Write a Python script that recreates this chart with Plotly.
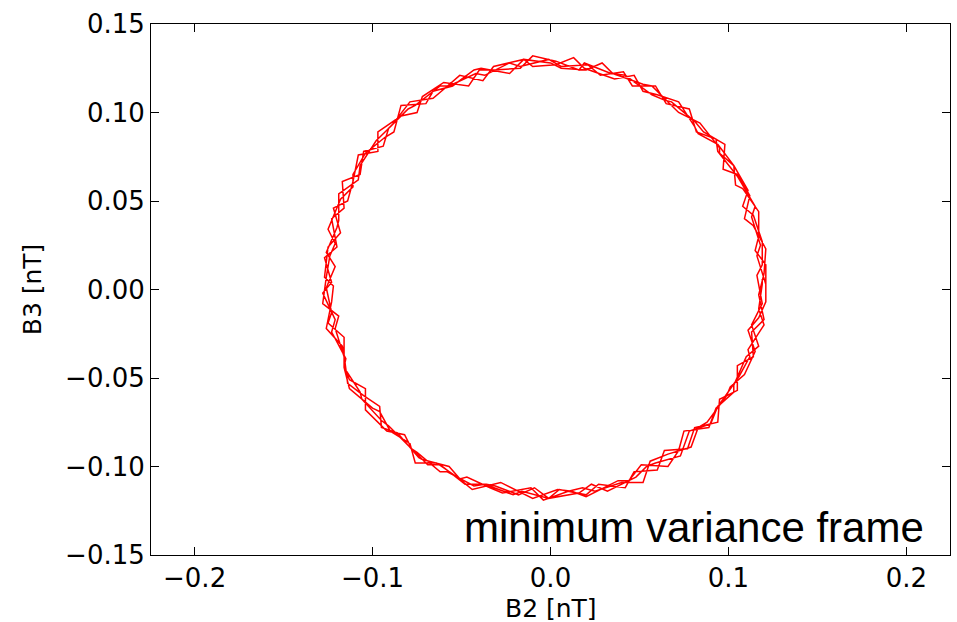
import plotly.graph_objects as go

# Hodogram in the minimum variance frame (several passes around the loop)
b2_loop1 = [0.121, 0.116, 0.118, 0.113, 0.115, 0.107, 0.105, 0.094, 0.093, 0.082, 0.078, 0.065,
            0.059, 0.046, 0.041, 0.028, 0.021, 0.006, -0.001, -0.017, -0.023, -0.037, -0.042, -0.057,
            -0.062, -0.076, -0.080, -0.091, -0.094, -0.105, -0.107, -0.117, -0.116, -0.123, -0.120, -0.127,
            -0.123, -0.128, -0.121, -0.123, -0.115, -0.116, -0.107, -0.106, -0.095, -0.091, -0.078, -0.075,
            -0.062, -0.058, -0.043, -0.037, -0.021, -0.016, -0.001, 0.005, 0.020, 0.027, 0.042, 0.047,
            0.060, 0.064, 0.077, 0.081, 0.094, 0.095, 0.105, 0.105, 0.114, 0.113, 0.120, 0.117]
b3_loop1 = [0.003, 0.019, 0.025, 0.041, 0.047, 0.060, 0.064, 0.078, 0.085, 0.089, 0.102, 0.105,
            0.115, 0.115, 0.123, 0.121, 0.127, 0.126, 0.130, 0.126, 0.128, 0.121, 0.122, 0.115,
            0.115, 0.104, 0.102, 0.091, 0.081, 0.078, 0.065, 0.061, 0.046, 0.040, 0.024, 0.018,
            0.004, -0.002, -0.017, -0.024, -0.039, -0.044, -0.058, -0.062, -0.074, -0.077, -0.090, -0.092,
            -0.103, -0.103, -0.111, -0.110, -0.116, -0.114, -0.118, -0.113, -0.116, -0.110, -0.112, -0.103,
            -0.102, -0.091, -0.090, -0.078, -0.075, -0.062, -0.057, -0.043, -0.038, -0.024, -0.017, -0.003]

b2_loop2 = [0.120, 0.121, 0.114, 0.109, 0.112, 0.105, 0.097, 0.098, 0.086, 0.081, 0.068, 0.064,
            0.057, 0.042, 0.034, 0.019, 0.016, 0.003, -0.010, -0.017, -0.032, -0.040, -0.046, -0.060,
            -0.072, -0.075, -0.084, -0.097, -0.097, -0.108, -0.111, -0.114, -0.122, -0.118, -0.125, -0.127,
            -0.122, -0.123, -0.126, -0.117, -0.116, -0.114, -0.105, -0.096, -0.095, -0.086, -0.074, -0.072,
            -0.057, -0.050, -0.044, -0.028, -0.016, -0.010, 0.004, 0.012, 0.020, 0.038, 0.044, 0.051,
            0.066, 0.072, 0.075, 0.089, 0.093, 0.103, 0.103, 0.110, 0.117, 0.113, 0.119, 0.118]
b3_loop2 = [0.009, 0.023, 0.036, 0.040, 0.053, 0.065, 0.068, 0.082, 0.089, 0.095, 0.106, 0.107,
            0.110, 0.121, 0.122, 0.128, 0.124, 0.129, 0.132, 0.125, 0.124, 0.124, 0.115, 0.117,
            0.109, 0.100, 0.098, 0.089, 0.078, 0.076, 0.061, 0.050, 0.046, 0.032, 0.024, 0.007,
            0.002, -0.007, -0.022, -0.032, -0.037, -0.053, -0.060, -0.066, -0.078, -0.081, -0.095, -0.096,
            -0.100, -0.108, -0.113, -0.109, -0.115, -0.118, -0.113, -0.114, -0.117, -0.108, -0.108, -0.099,
            -0.100, -0.091, -0.080, -0.078, -0.067, -0.058, -0.054, -0.038, -0.032, -0.020, -0.008, -0.002]

b2_loop3 = [0.116, 0.119, 0.119, 0.114, 0.108, 0.111, 0.103, 0.095, 0.095, 0.084, 0.072, 0.069,
            0.057, 0.052, 0.035, 0.029, 0.020, 0.006, 0.000, -0.015, -0.023, -0.039, -0.043, -0.055,
            -0.066, -0.070, -0.084, -0.088, -0.093, -0.104, -0.111, -0.111, -0.118, -0.125, -0.121, -0.124,
            -0.126, -0.128, -0.119, -0.121, -0.116, -0.116, -0.113, -0.100, -0.096, -0.090, -0.079, -0.076,
            -0.064, -0.051, -0.047, -0.034, -0.027, -0.011, -0.004, 0.010, 0.018, 0.025, 0.040, 0.052,
            0.056, 0.066, 0.079, 0.083, 0.088, 0.099, 0.101, 0.109, 0.115, 0.111, 0.117, 0.121]
b3_loop3 = [0.008, 0.014, 0.027, 0.042, 0.047, 0.056, 0.070, 0.077, 0.080, 0.094, 0.100, 0.103,
            0.115, 0.116, 0.122, 0.128, 0.124, 0.125, 0.128, 0.130, 0.122, 0.125, 0.124, 0.115,
            0.112, 0.105, 0.104, 0.089, 0.086, 0.077, 0.065, 0.058, 0.051, 0.034, 0.026, 0.019,
            0.007, -0.008, -0.015, -0.022, -0.038, -0.044, -0.056, -0.067, -0.069, -0.080, -0.087, -0.098,
            -0.098, -0.107, -0.106, -0.112, -0.115, -0.112, -0.119, -0.114, -0.112, -0.114, -0.109, -0.109,
            -0.097, -0.093, -0.089, -0.078, -0.075, -0.060, -0.055, -0.048, -0.035, -0.023, -0.016, -0.007]

b2_loop4 = [0.121, 0.115, 0.117, 0.117, 0.108, 0.104, 0.103, 0.094, 0.083, 0.081, 0.072, 0.060,
            0.052, 0.047, 0.036, 0.019, 0.013, 0.003, -0.010, -0.015, -0.032, -0.038, -0.051, -0.059,
            -0.066, -0.079, -0.089, -0.092, -0.098, -0.107, -0.108, -0.119, -0.119, -0.120, -0.126, -0.121,
            -0.126, -0.123, -0.125, -0.116, -0.116, -0.113, -0.104, -0.104, -0.092, -0.082, -0.078, -0.069,
            -0.062, -0.048, -0.036, -0.031, -0.018, -0.009, -0.001, 0.016, 0.023, 0.032, 0.048, 0.054,
            0.059, 0.073, 0.078, 0.090, 0.094, 0.097, 0.106, 0.112, 0.111, 0.120, 0.117, 0.119, 0.119]
b3_loop4 = [0.014, 0.022, 0.030, 0.044, 0.057, 0.059, 0.070, 0.082, 0.088, 0.092, 0.106, 0.110,
            0.112, 0.121, 0.119, 0.125, 0.131, 0.127, 0.126, 0.130, 0.126, 0.118, 0.121, 0.114,
            0.108, 0.106, 0.093, 0.090, 0.084, 0.070, 0.062, 0.054, 0.039, 0.035, 0.021, 0.013,
            0.001, -0.013, -0.019, -0.027, -0.043, -0.051, -0.056, -0.068, -0.080, -0.082, -0.090, -0.099,
            -0.099, -0.110, -0.110, -0.111, -0.116, -0.112, -0.118, -0.115, -0.110, -0.114, -0.106, -0.100,
            -0.098, -0.094, -0.080, -0.076, -0.066, -0.062, -0.049, -0.038, -0.034, -0.020, -0.011, 0.003, 0.006]

b2 = b2_loop1 + b2_loop2 + b2_loop3 + b2_loop4
b3 = b3_loop1 + b3_loop2 + b3_loop3 + b3_loop4

x_ticks = [-0.2, -0.1, 0.0, 0.1, 0.2]
x_labels = ["\u22120.2", "\u22120.1", "0.0", "0.1", "0.2"]
y_ticks = [-0.15, -0.10, -0.05, 0.00, 0.05, 0.10, 0.15]
y_labels = ["\u22120.15", "\u22120.10", "\u22120.05", "0.00", "0.05", "0.10", "0.15"]

tick_font = dict(family="DejaVu Sans", size=26, color="black")

fig = go.Figure()
fig.add_trace(go.Scatter(x=b2, y=b3, mode="lines",
                         line=dict(color="#ff0000", width=1.5), showlegend=False,
                         hoverinfo="skip"))

axis_common = dict(showline=True, linecolor="black", linewidth=1, mirror="ticks",
                   ticks="inside", ticklen=8, tickwidth=1, tickcolor="black",
                   showgrid=False, zeroline=False, tickfont=tick_font)

fig.update_layout(
    width=957, height=622,
    margin=dict(l=151, r=7, t=24, b=67),
    paper_bgcolor="white", plot_bgcolor="white",
    xaxis=dict(range=[-0.2245, 0.2245], tickvals=x_ticks, ticktext=x_labels, **axis_common),
    yaxis=dict(range=[-0.15, 0.15], tickvals=y_ticks, ticktext=y_labels, **axis_common),
    annotations=[
        dict(text="minimum variance frame", xref="paper", yref="paper", x=0.97, y=0.004,
             xanchor="right", yanchor="bottom", showarrow=False,
             font=dict(family="Liberation Sans", size=42, color="black")),
        dict(text="B2 [nT]", xref="paper", yref="paper", x=0.5, y=-0.131,
             xanchor="center", yanchor="bottom", showarrow=False,
             font=dict(family="DejaVu Sans", size=25, color="black")),
        dict(text="B3 [nT]", xref="paper", yref="paper", x=-0.148, y=0.5, textangle=-90,
             xanchor="center", yanchor="middle", showarrow=False,
             font=dict(family="DejaVu Sans", size=25, color="black")),
    ],
)

fig.write_html("out.html")
